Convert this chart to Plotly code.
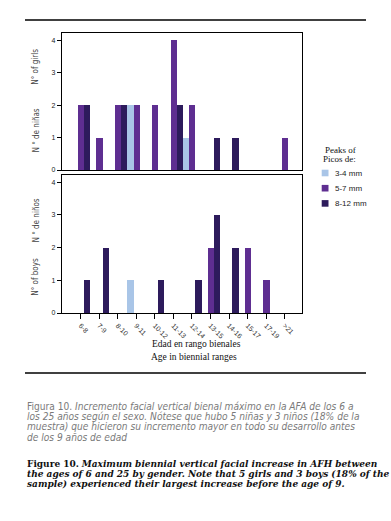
import plotly.graph_objects as go

# ---------------- data ----------------
categories = ["6-8", "7-9", "8-10", "9-11", "10-12", "11-13", "12-14",
              "13-15", "14-16", "15-17", "17-19", ">21"]
series_names = ["3-4 mm", "5-7 mm", "8-12 mm"]
series_colors = ["#a9c5e7", "#5e2e91", "#2d1b5c"]

girls_3_4 = [0, 0, 0, 2, 0, 0, 1, 0, 0, 0, 0, 0]
girls_5_7 = [2, 1, 2, 2, 2, 4, 2, 0, 0, 0, 0, 1]
girls_8_12 = [2, 0, 2, 0, 0, 2, 0, 1, 1, 0, 0, 0]

boys_3_4 = [0, 0, 0, 1, 0, 0, 0, 0, 0, 0, 0, 0]
boys_5_7 = [0, 0, 0, 0, 0, 0, 0, 2, 0, 2, 1, 0]
boys_8_12 = [1, 2, 0, 0, 1, 0, 1, 3, 2, 0, 0, 0]

y_ticks = [0, 1, 2, 3, 4]

W, H = 391, 521


def px(x):
    return x / W


def py(y):
    return 1 - y / H


fig = go.Figure()

girls = [girls_3_4, girls_5_7, girls_8_12]
boys = [boys_3_4, boys_5_7, boys_8_12]
for name, col, vals in zip(series_names, series_colors, girls):
    fig.add_trace(go.Bar(x=categories, y=vals, name=name, marker_color=col,
                         marker_line_width=0, xaxis="x", yaxis="y",
                         showlegend=False))
for name, col, vals in zip(series_names, series_colors, boys):
    fig.add_trace(go.Bar(x=categories, y=vals, name=name, marker_color=col,
                         marker_line_width=0, xaxis="x2", yaxis="y2",
                         showlegend=False))

sans = "Liberation Sans, Arial, sans-serif"
cond = "DejaVu Sans Condensed, DejaVu Sans, sans-serif"
serif = "Liberation Serif, Times New Roman, serif"
wide_serif = "DejaVu Serif, Liberation Serif, serif"

xdom = [px(61.7), px(302)]
xr = [-1.02, 11.93]
yr = [0, 4.22]

axis_common = dict(showline=True, linecolor="black", linewidth=1, mirror=True,
                   showgrid=False, zeroline=False, automargin=False)

fig.update_layout(
    width=W, height=H, autosize=False,
    margin=dict(l=0, r=0, t=0, b=0, pad=0),
    paper_bgcolor="white", plot_bgcolor="white",
    barmode="group", bargap=0, bargroupgap=0,
    xaxis=dict(domain=xdom, range=xr, anchor="y", showticklabels=False,
               ticks="", type="category", **axis_common),
    yaxis=dict(domain=[py(170), py(33)], range=yr, anchor="x",
               tickvals=y_ticks, ticks="outside", ticklen=4, tickwidth=1,
               tickcolor="black", tickfont=dict(family=sans, size=7, color="#222"),
               **axis_common),
    xaxis2=dict(domain=xdom, range=xr, anchor="y2", type="category",
                tickangle=45, ticks="outside", ticklen=5, tickwidth=1,
                tickcolor="black", tickfont=dict(family=sans, size=7, color="#333"),
                **axis_common),
    yaxis2=dict(domain=[py(313), py(175)], range=yr, anchor="x2",
                tickvals=y_ticks, ticks="outside", ticklen=4, tickwidth=1,
                tickcolor="black", tickfont=dict(family=sans, size=7, color="#222"),
                **axis_common),
)

ann = []
# y axis titles (rotated)
for text, yc in [("N ° de niñas", 130.5), ("N° of girls", 66.7),
                 ("N ° de niños", 220.5), ("N° of boys", 276.7)]:
    ann.append(dict(text=text, x=px(36), y=py(yc), xref="paper", yref="paper",
                    textangle=-90, showarrow=False, xanchor="center", yanchor="middle",
                    font=dict(family=cond, size=8, color="#444")))

# x axis title
ann.append(dict(text="Edad en rango bienales", x=px(196), y=py(343.5),
                xref="paper", yref="paper", showarrow=False,
                xanchor="center", yanchor="middle",
                font=dict(family=serif, size=9.5, color="#111")))
ann.append(dict(text="Age in biennial ranges", x=px(193.5), y=py(357),
                xref="paper", yref="paper", showarrow=False,
                xanchor="center", yanchor="middle",
                font=dict(family=serif, size=9.5, color="#111")))

# legend (title + entries)
ann.append(dict(text="Peaks of", x=px(358), y=py(150), xref="paper", yref="paper",
                showarrow=False, xanchor="right", yanchor="middle",
                font=dict(family=serif, size=9, color="#111")))
ann.append(dict(text="Picos de:", x=px(358), y=py(159.5), xref="paper", yref="paper",
                showarrow=False, xanchor="right", yanchor="middle",
                font=dict(family=serif, size=9, color="#111")))
shapes = []
for i, (name, col) in enumerate(zip(series_names, series_colors)):
    yc = 173 + i * 15.2
    shapes.append(dict(type="rect", xref="paper", yref="paper",
                       x0=px(321.7), x1=px(328.5), y0=py(yc - 3.3), y1=py(yc + 3.3),
                       fillcolor=col, line=dict(width=0)))
    ann.append(dict(text=name, x=px(332.5), y=py(yc), xref="paper", yref="paper",
                    showarrow=False, xanchor="left", yanchor="middle",
                    font=dict(family=sans, size=8, color="#222")))

# horizontal rules
for yy in [20, 373]:
    shapes.append(dict(type="line", xref="paper", yref="paper", layer="above",
                       x0=px(25), x1=px(366), y0=py(yy), y1=py(yy),
                       line=dict(color="black", width=1.5)))

# captions
es_lines = [
    "Figura 10. <i>Incremento facial vertical bienal máximo en la AFA de los 6 a</i>",
    "<i>los 25 años según el sexo. Nótese que hubo 5 niñas y 3 niños (18% de la</i>",
    "<i>muestra) que hicieron su incremento mayor en todo su desarrollo antes</i>",
    "<i>de los 9 años de edad</i>",
]
for i, t in enumerate(es_lines):
    ann.append(dict(text=t, x=px(25), y=py(406.5 + i * 10.2), xref="paper", yref="paper",
                    showarrow=False, xanchor="left", yanchor="middle",
                    font=dict(family=cond, size=10.1, color="#7a7a7a")))

en_lines = [
    "<b>Figure 10.</b> <b><i>Maximum biennial vertical facial increase in AFH between</i></b>",
    "<b><i>the ages of 6 and 25 by gender. Note that 5 girls and 3 boys (18% of the</i></b>",
    "<b><i>sample) experienced their largest increase before the age of 9.</i></b>",
]
for i, t in enumerate(en_lines):
    ann.append(dict(text=t, x=px(25), y=py(463.5 + i * 10.4), xref="paper", yref="paper",
                    showarrow=False, xanchor="left", yanchor="middle",
                    font=dict(family=wide_serif, size=9, color="#111")))

fig.update_layout(annotations=ann, shapes=shapes)

fig.write_html("out.html",
               config={"displayModeBar": False},
               post_script="document.body.style.margin='0px';"
                           "document.body.style.padding='0px';")
